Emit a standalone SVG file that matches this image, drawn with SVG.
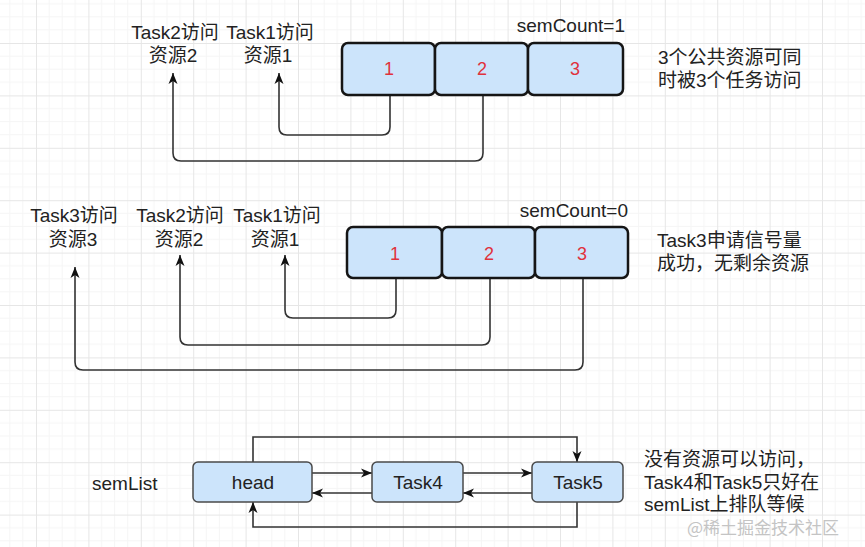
<svg xmlns="http://www.w3.org/2000/svg" width="865" height="547" viewBox="0 0 865 547">
<defs>
<pattern id="grid" patternUnits="userSpaceOnUse" x="36" y="43" width="52.4" height="52.4">
<path d="M13.1 0V52.4M26.2 0V52.4M39.3 0V52.4M0 13.1H52.4M0 26.2H52.4M0 39.3H52.4" stroke="#f5f5f5" stroke-width="1" fill="none"/>
<path d="M0.5 0V52.4M0 0.5H52.4" stroke="#e6e6e6" stroke-width="1" fill="none"/>
</pattern>
<marker id="arr" markerUnits="userSpaceOnUse" markerWidth="12" markerHeight="12" viewBox="0 0 12 12" refX="11" refY="6" orient="auto">
<path d="M0 1.5L11 6L0 10.5L3 6Z" fill="#111"/>
</marker>
<style>
.t{font-family:"Liberation Sans","Noto Sans CJK SC",sans-serif;font-size:19px;fill:#222}
.m{text-anchor:middle}
.num{font-family:"Liberation Sans",sans-serif;font-size:18px;fill:#e0323c;text-anchor:middle}
.box{fill:#cce4fb;stroke:#151515;stroke-width:2.5}
.lbox{fill:#cce4fb;stroke:#4a4a4a;stroke-width:1.5}
.c{fill:none;stroke:#333;stroke-width:1.6;marker-end:url(#arr)}
.wm{font-family:"Noto Sans CJK SC",sans-serif;font-size:17px;fill:#c4c4c4}
</style>
</defs>
<rect width="865" height="547" fill="#ffffff"/>
<rect width="865" height="547" fill="url(#grid)"/>

<g id="connectors">
<path class="c" d="M390 95V127Q390 135 382 135H287Q279 135 279 127V73"/>
<path class="c" d="M483 95V153Q483 161 475 161H181Q173 161 173 153V73"/>
<path class="c" d="M396 278V310Q396 318 388 318H293Q285 318 285 310V255"/>
<path class="c" d="M490 278V337Q490 345 482 345H188Q180 345 180 337V255"/>
<path class="c" d="M583 278V362Q583 370 575 370H83Q75 370 75 362V267"/>
<path class="c" d="M253 462V437H577V462"/>
<path class="c" d="M577 502V527H253V502"/>
<path class="c" d="M312 473H372"/>
<path class="c" d="M372 493H312"/>
<path class="c" d="M463 473H532"/>
<path class="c" d="M532 493H463"/>
</g>

<g id="row1-labels">
<text class="t m" x="175" y="39">Task2访问</text>
<text class="t m" x="173" y="62">资源2</text>
<text class="t m" x="270" y="39">Task1访问</text>
<text class="t m" x="268" y="62">资源1</text>
<text class="t" x="625" y="32" text-anchor="end">semCount=1</text>
</g>
<g id="r1-box1"><rect class="box" x="342" y="43" width="93" height="52" rx="6"/><text class="num" x="389" y="75">1</text></g>
<g id="r1-box2"><rect class="box" x="435" y="43" width="93" height="52" rx="6"/><text class="num" x="482" y="75">2</text></g>
<g id="r1-box3"><rect class="box" x="528" y="43" width="95" height="52" rx="6"/><text class="num" x="575" y="75">3</text></g>
<g id="note1">
<text class="t" x="658" y="64">3个公共资源可同</text>
<text class="t" x="658" y="87">时被3个任务访问</text>
</g>

<g id="row2-labels">
<text class="t m" x="74" y="222">Task3访问</text>
<text class="t m" x="73" y="246">资源3</text>
<text class="t m" x="180" y="222">Task2访问</text>
<text class="t m" x="179" y="246">资源2</text>
<text class="t m" x="277" y="222">Task1访问</text>
<text class="t m" x="275" y="246">资源1</text>
<text class="t" x="628" y="217" text-anchor="end">semCount=0</text>
</g>
<g id="r2-box1"><rect class="box" x="347" y="227" width="95" height="51" rx="6"/><text class="num" x="395" y="260">1</text></g>
<g id="r2-box2"><rect class="box" x="442" y="227" width="93" height="51" rx="6"/><text class="num" x="489" y="260">2</text></g>
<g id="r2-box3"><rect class="box" x="535" y="227" width="93" height="51" rx="6"/><text class="num" x="582" y="260">3</text></g>
<g id="note2">
<text class="t" x="657" y="247">Task3申请信号量</text>
<text class="t" x="657" y="270">成功，无剩余资源</text>
</g>

<g id="semList-label"><text class="t" x="92" y="490">semList</text></g>
<g id="head"><rect class="lbox" x="193" y="462" width="119" height="40" rx="5"/><text class="t m" x="253" y="489">head</text></g>
<g id="task4"><rect class="lbox" x="372" y="462" width="91" height="40" rx="5"/><text class="t m" x="418" y="489">Task4</text></g>
<g id="task5"><rect class="lbox" x="532" y="462" width="91" height="40" rx="5"/><text class="t m" x="578" y="489">Task5</text></g>
<g id="note3">
<text class="t" x="644" y="466">没有资源可以访问，</text>
<text class="t" x="644" y="489">Task4和Task5只好在</text>
<text class="t" x="644" y="511">semList上排队等候</text>
</g>
<text class="wm" x="687" y="534">@稀土掘金技术社区</text>
</svg>
